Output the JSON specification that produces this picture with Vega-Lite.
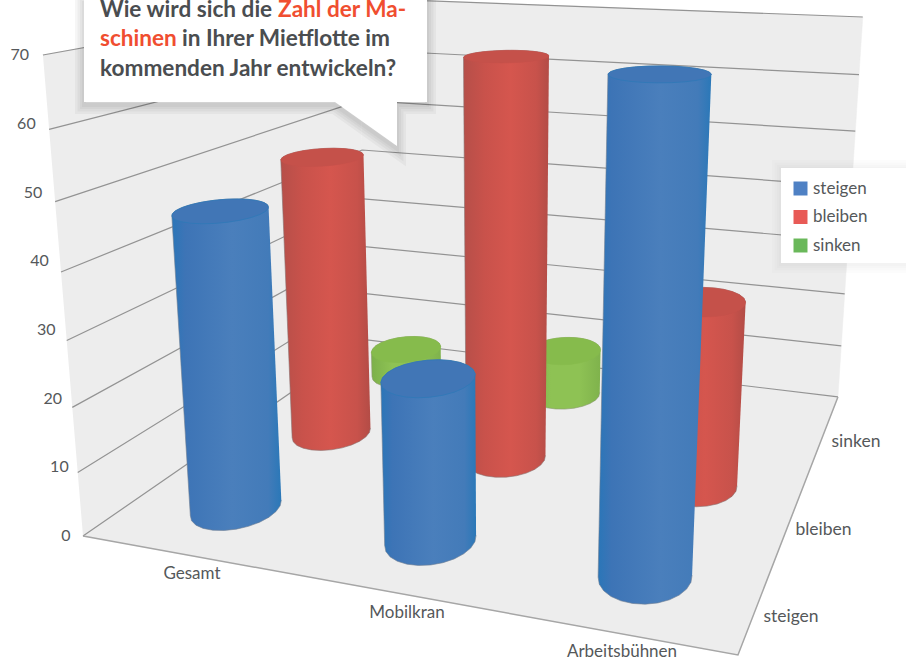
{
  "$schema": "https://vega.github.io/schema/vega-lite/v6.json",
  "width": 906,
  "height": 660,
  "padding": 0,
  "autosize": {"type": "none"},
  "background": "white",
  "config": {"view": {"stroke": null}, "text": {"font": "Lato", "fontSize": 16, "fill": "#55585a"}},
  "datasets": {
    "bars": [
      {"category": "Gesamt", "series": "steigen", "value": 46.5},
      {"category": "Gesamt", "series": "bleiben", "value": 48.5},
      {"category": "Gesamt", "series": "sinken", "value": 5},
      {"category": "Mobilkran", "series": "steigen", "value": 25},
      {"category": "Mobilkran", "series": "bleiben", "value": 66.5},
      {"category": "Mobilkran", "series": "sinken", "value": 8.5},
      {"category": "Arbeitsbühnen", "series": "steigen", "value": 69.5},
      {"category": "Arbeitsbühnen", "series": "bleiben", "value": 30.5},
      {"category": "Arbeitsbühnen", "series": "sinken", "value": 0}
    ],
    "panes": [
      {"pane": "left", "o": 0, "u": 0, "s": 0, "v": 0},
      {"pane": "left", "o": 1, "u": 0, "s": 1, "v": 0},
      {"pane": "left", "o": 2, "u": 0, "s": 1, "v": 70},
      {"pane": "left", "o": 3, "u": 0, "s": 0, "v": 70},
      {"pane": "back", "o": 0, "u": 0, "s": 1, "v": 0},
      {"pane": "back", "o": 1, "u": 1, "s": 1, "v": 0},
      {"pane": "back", "o": 2, "u": 1, "s": 1, "v": 70},
      {"pane": "back", "o": 3, "u": 0, "s": 1, "v": 70},
      {"pane": "floor", "o": 0, "u": 0, "s": 0, "v": 0},
      {"pane": "floor", "o": 1, "u": 1, "s": 0, "v": 0},
      {"pane": "floor", "o": 2, "u": 1, "s": 1, "v": 0},
      {"pane": "floor", "o": 3, "u": 0, "s": 1, "v": 0}
    ],
    "ticks": [{"tick": 0}, {"tick": 10}, {"tick": 20}, {"tick": 30}, {"tick": 40}, {"tick": 50}, {"tick": 60}, {"tick": 70}],
    "categories": [{"name": "Gesamt"}, {"name": "Mobilkran"}, {"name": "Arbeitsbühnen"}],
    "seriesNames": [{"name": "steigen"}, {"name": "bleiben"}, {"name": "sinken"}],
    "glow": [{"w": 18}, {"w": 13}, {"w": 8}, {"w": 4}]
  },
  "encoding": {
    "x": {"field": "px", "type": "quantitative", "scale": {"domain": [0, 906], "nice": false, "zero": false}, "axis": null},
    "y": {"field": "py", "type": "quantitative", "scale": {"domain": [660, 0], "nice": false, "zero": false}, "axis": null}
  },
  "layer": [
    {
      "data": {"name": "panes"},
      "transform": [
        {"calculate": "-0.1471*datum.u+0.4219*datum.s+1-0.00125*datum.v", "as": "w"},
        {"calculate": "(546.4*datum.u+438.8*datum.s+83-0.62625*datum.v)/datum.w", "as": "px"},
        {"calculate": "(22.6*datum.u-52.6*datum.s+536-6.94*datum.v)/datum.w", "as": "py"}
      ],
      "mark": {"type": "line", "fill": "#ededed", "stroke": "#ededed", "strokeWidth": 0.5},
      "encoding": {"detail": {"field": "pane"}, "order": {"field": "o"}}
    },
    {
      "data": {"name": "ticks"},
      "transform": [
        {"calculate": "[0,1,2]", "as": "o"},
        {"flatten": ["o"]},
        {"calculate": "datum.o==2?1:0", "as": "u"},
        {"calculate": "datum.o==0?0:1", "as": "s"},
        {"calculate": "-0.1471*datum.u+0.4219*datum.s+1-0.00125*datum.tick", "as": "w"},
        {"calculate": "(546.4*datum.u+438.8*datum.s+83-0.62625*datum.tick)/datum.w", "as": "px"},
        {"calculate": "(22.6*datum.u-52.6*datum.s+536-6.94*datum.tick)/datum.w", "as": "py"}
      ],
      "mark": {"type": "line", "stroke": "#939393", "strokeWidth": 1.2},
      "encoding": {"detail": {"field": "tick"}, "order": {"field": "o"}}
    },
    {
      "data": {"name": "panes"},
      "transform": [
        {"filter": "datum.pane==='floor' && datum.o<3"},
        {"calculate": "-0.1471*datum.u+0.4219*datum.s+1", "as": "w"},
        {"calculate": "(546.4*datum.u+438.8*datum.s+83)/datum.w", "as": "px"},
        {"calculate": "(22.6*datum.u-52.6*datum.s+536)/datum.w", "as": "py"}
      ],
      "mark": {"type": "line", "stroke": "#a6a6a6", "strokeWidth": 1.5},
      "encoding": {"order": {"field": "o"}}
    },
    {
      "data": {"name": "ticks"},
      "transform": [
        {"calculate": "66-0.66*datum.tick", "as": "px"},
        {"calculate": "536-6.87*datum.tick", "as": "py"}
      ],
      "mark": {"type": "text", "align": "center", "baseline": "middle"},
      "encoding": {"text": {"field": "tick", "type": "quantitative"}}
    },
    {
      "data": {"name": "categories"},
      "transform": [
        {"calculate": "indexof(['Gesamt','Mobilkran','Arbeitsbühnen'],datum.name)", "as": "i"},
        {"calculate": "192+215*datum.i", "as": "px"},
        {"calculate": "574+39*datum.i", "as": "py"}
      ],
      "mark": {"type": "text", "align": "center", "baseline": "middle", "fontSize": 17},
      "encoding": {"text": {"field": "name"}}
    },
    {
      "data": {"name": "seriesNames"},
      "transform": [
        {"calculate": "indexof(['steigen','bleiben','sinken'],datum.name)", "as": "i"},
        {"calculate": "791+32.5*datum.i", "as": "px"},
        {"calculate": "617-87.5*datum.i", "as": "py"}
      ],
      "mark": {"type": "text", "align": "center", "baseline": "middle", "fontSize": 17.5},
      "encoding": {"text": {"field": "name"}}
    },
    {
      "data": {"name": "bars"},
      "transform": [
        {"filter": "datum.value>0"},
        {"calculate": "(indexof(['Gesamt','Mobilkran','Arbeitsbühnen'],datum.category)+0.5)/3", "as": "cu"},
        {"calculate": "(indexof(['steigen','bleiben','sinken'],datum.series)+0.5)/3", "as": "cs"},
        {"calculate": "(546.4*datum.cu+438.8*datum.cs+83)/(-0.1471*datum.cu+0.4219*datum.cs+1)", "as": "cx"},
        {"calculate": "atan2((438.8-0.4219*datum.cx)*0.083,(546.4+0.1471*datum.cx)*0.066)", "as": "side"},
        {"calculate": "[0,1,2,3,4,5,6,7,8,9,10,11,12,13,14,15,16,17,18,19,20,21,22,23,24,25]", "as": "o"},
        {"flatten": ["o"]},
        {"calculate": "datum.side+(datum.o<=12?datum.o:datum.o-1)*PI/12", "as": "a"},
        {"calculate": "datum.cu+0.066*cos(datum.a)", "as": "bu"},
        {"calculate": "datum.cs+0.083*sin(datum.a)", "as": "bs"},
        {"calculate": "datum.o<=12?datum.value:0", "as": "bv"},
        {"calculate": "-0.1471*datum.bu+0.4219*datum.bs+1-0.00125*datum.bv", "as": "bw"},
        {"calculate": "(546.4*datum.bu+438.8*datum.bs+83-0.62625*datum.bv)/datum.bw", "as": "px"},
        {"calculate": "(22.6*datum.bu-52.6*datum.bs+536-6.94*datum.bv)/datum.bw", "as": "py"},
        {"calculate": "datum.o*PI/12", "as": "ta"},
        {"calculate": "datum.cu+0.066*cos(datum.ta)", "as": "tu"},
        {"calculate": "datum.cs+0.083*sin(datum.ta)", "as": "ts"},
        {"calculate": "-0.1471*datum.tu+0.4219*datum.ts+1-0.00125*datum.value", "as": "tw"},
        {"calculate": "(546.4*datum.tu+438.8*datum.ts+83-0.62625*datum.value)/datum.tw", "as": "tx"},
        {"calculate": "(22.6*datum.tu-52.6*datum.ts+536-6.94*datum.value)/datum.tw", "as": "ty"}
      ],
      "layer": [
        {
          "transform": [{"filter": "datum.series==='sinken'"}],
          "mark": {"type": "line", "stroke": "#8a9a70", "strokeOpacity": 0.6, "strokeWidth": 1,
            "fill": {"gradient": "linear", "x1": 0, "y1": 0, "x2": 1, "y2": 0, "stops": [
              {"offset": 0, "color": "#7cb04a"}, {"offset": 0.3, "color": "#8ec254"}, {"offset": 0.7, "color": "#8ec254"}, {"offset": 1, "color": "#7fb24c"}]}},
          "encoding": {"detail": {"field": "category"}, "order": {"field": "o"}}
        },
        {
          "transform": [{"filter": "datum.series==='sinken' && datum.o<=24"}],
          "mark": {"type": "line", "fill": "#86bb4c", "stroke": "#86bb4c", "strokeWidth": 0.5},
          "encoding": {"x": {"field": "tx", "type": "quantitative"}, "y": {"field": "ty", "type": "quantitative"}, "detail": {"field": "category"}, "order": {"field": "o"}}
        },
        {
          "transform": [{"filter": "datum.series==='bleiben'"}],
          "mark": {"type": "line", "stroke": "#8a7270", "strokeOpacity": 0.6, "strokeWidth": 1,
            "fill": {"gradient": "linear", "x1": 0, "y1": 0, "x2": 1, "y2": 0, "stops": [
              {"offset": 0, "color": "#b64f49"}, {"offset": 0.25, "color": "#c9524b"}, {"offset": 0.55, "color": "#d5564e"}, {"offset": 0.85, "color": "#c8524b"}, {"offset": 1, "color": "#b34c46"}]}},
          "encoding": {"detail": {"field": "category"}, "order": {"field": "o"}}
        },
        {
          "transform": [{"filter": "datum.series==='bleiben' && datum.o<=24"}],
          "mark": {"type": "line", "fill": "#c5514a", "stroke": "#c5514a", "strokeWidth": 0.5},
          "encoding": {"x": {"field": "tx", "type": "quantitative"}, "y": {"field": "ty", "type": "quantitative"}, "detail": {"field": "category"}, "order": {"field": "o"}}
        },
        {
          "transform": [{"filter": "datum.series==='steigen'"}],
          "mark": {"type": "line", "stroke": "#6f7f92", "strokeOpacity": 0.6, "strokeWidth": 1,
            "fill": {"gradient": "linear", "x1": 0, "y1": 0, "x2": 1, "y2": 0, "stops": [
              {"offset": 0, "color": "#2a76b8"}, {"offset": 0.12, "color": "#3d74b6"}, {"offset": 0.55, "color": "#4a7fbc"}, {"offset": 0.88, "color": "#437bb9"}, {"offset": 1, "color": "#2a78b8"}]}},
          "encoding": {"detail": {"field": "category"}, "order": {"field": "o"}}
        },
        {
          "transform": [{"filter": "datum.series==='steigen' && datum.o<=24"}],
          "mark": {"type": "line", "fill": "#4176b6", "stroke": "#2f78b8", "strokeWidth": 0.8},
          "encoding": {"x": {"field": "tx", "type": "quantitative"}, "y": {"field": "ty", "type": "quantitative"}, "detail": {"field": "category"}, "order": {"field": "o"}}
        },
        {
          "mark": {"type": "point", "filled": true, "size": 0, "opacity": 1},
          "encoding": {
            "color": {
              "field": "series", "type": "nominal",
              "scale": {"domain": ["steigen", "bleiben", "sinken"], "range": ["#4f81c4", "#e85a56", "#6ab85a"]},
              "legend": {"title": null, "orient": "none", "legendX": 780, "legendY": 168, "padding": 12, "symbolType": "square", "symbolSize": 196, "symbolStrokeWidth": 0, "symbolOpacity": 1, "labelFont": "Lato", "labelFontSize": 17, "labelColor": "#55585a", "rowPadding": 10.5, "labelOffset": 4}
            }
          }
        }
      ]
    },
    {
      "data": {"name": "glow"},
      "mark": {"type": "point", "filled": false, "stroke": "#000000", "strokeOpacity": 0.035, "size": 4, "opacity": 1, "shape": "M84,0H427V102H397V146L335,102H84Z"},
      "encoding": {"x": {"value": 0}, "y": {"value": 3}, "strokeWidth": {"field": "w", "type": "quantitative", "scale": null, "legend": null}}
    },
    {
      "data": {"values": [{}]},
      "mark": {"type": "point", "filled": true, "fill": "#ffffff", "size": 4, "opacity": 1, "shape": "M84,0H427V102H397V146L335,102H84Z"},
      "encoding": {"x": {"value": 0}, "y": {"value": 0}}
    },
    {
      "data": {"name": "glow"},
      "mark": {"type": "point", "filled": false, "stroke": "#000000", "strokeOpacity": 0.012, "size": 4, "opacity": 1, "shape": "M781,168H920V263H781Z"},
      "encoding": {"x": {"value": 0}, "y": {"value": 1}, "strokeWidth": {"field": "w", "type": "quantitative", "scale": null, "legend": null}}
    },
    {
      "data": {"values": [{}]},
      "mark": {"type": "point", "filled": true, "fill": "#ffffff", "size": 4, "opacity": 1, "shape": "M781,168H920V263H781Z"},
      "encoding": {"x": {"value": 0}, "y": {"value": 0}}
    },
    {
      "data": {"values": [{}]},
      "mark": {"type": "text", "align": "left", "baseline": "alphabetic", "font": "Lato", "fontWeight": "bold", "fontSize": 22.6, "fill": "#4a4d50"},
      "encoding": {"x": {"value": 100}, "y": {"value": 17}, "text": {"value": "Wie wird sich die"}}
    },
    {
      "data": {"values": [{}]},
      "mark": {"type": "text", "align": "left", "baseline": "alphabetic", "font": "Lato", "fontWeight": "bold", "fontSize": 22.6, "fill": "#f04e30"},
      "encoding": {"x": {"value": 278}, "y": {"value": 17}, "text": {"value": "Zahl der Ma-"}}
    },
    {
      "data": {"values": [{}]},
      "mark": {"type": "text", "align": "left", "baseline": "alphabetic", "font": "Lato", "fontWeight": "bold", "fontSize": 22.6, "fill": "#f04e30"},
      "encoding": {"x": {"value": 100}, "y": {"value": 46}, "text": {"value": "schinen"}}
    },
    {
      "data": {"values": [{}]},
      "mark": {"type": "text", "align": "left", "baseline": "alphabetic", "font": "Lato", "fontWeight": "bold", "fontSize": 22.6, "fill": "#4a4d50"},
      "encoding": {"x": {"value": 182}, "y": {"value": 46}, "text": {"value": "in Ihrer Mietflotte im"}}
    },
    {
      "data": {"values": [{}]},
      "mark": {"type": "text", "align": "left", "baseline": "alphabetic", "font": "Lato", "fontWeight": "bold", "fontSize": 22.6, "fill": "#4a4d50"},
      "encoding": {"x": {"value": 100}, "y": {"value": 76}, "text": {"value": "kommenden Jahr entwickeln?"}}
    }
  ]
}
